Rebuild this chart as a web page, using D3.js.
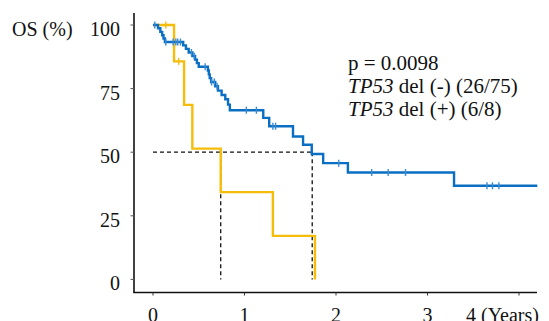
<!DOCTYPE html>
<html>
<head>
<meta charset="utf-8">
<script src="https://cdn.jsdelivr.net/npm/d3@7"></script>
<style>
  body { margin: 0; background: #fff; }
  text { font-family: "Liberation Serif", "Times New Roman", serif; fill: #111; }
</style>
</head>
<body>
<svg id="chart" width="549" height="321" font-family="Liberation Serif"></svg>
<script>
// TP53 del (-): event times (years) and survival (%) after each drop
const negTimes = [0.055, 0.08, 0.10, 0.115, 0.13, 0.33, 0.36, 0.39, 0.43, 0.46, 0.48, 0.50,
  0.60, 0.61, 0.62, 0.635, 0.68, 0.71, 0.75, 0.79, 0.82, 0.84,
  1.205, 1.27, 1.53, 1.64, 1.735, 1.86, 2.13, 3.29]
const negSurv = [98.7, 97.3, 96.0, 94.7, 93.3, 92.0, 90.6, 89.2, 87.8, 86.4, 85.0, 83.6,
  82.1, 80.6, 79.1, 77.6, 75.9, 74.2, 72.5, 70.8, 68.7, 66.5,
  63.5, 60.2, 56.2, 52.9, 49.3, 45.7, 42.0, 36.8]
const negCensor = [0.02, 0.14, 0.22, 0.25, 0.27, 0.30, 0.42, 0.45, 0.57, 0.64, 0.67, 0.70,
  1.02, 1.13, 1.31, 1.34, 2.03, 2.39, 2.57, 2.76, 3.65, 3.71, 3.78]
const negEnd = 4.2

// TP53 del (+)
const posTimes = [0.23, 0.34, 0.43, 0.74, 1.31, 1.77]
const posSurv = [85.7, 68.6, 51.4, 34.3, 17.1, 0]
const posCensor = [0.14, 0.28]

const medians = [0.74, 1.74]
const yTicks = [0, 25, 50, 75, 100]
const xTicks = [0, 1, 2, 3]
const legendLines = [
  [{t: 'p = 0.0098', i: false}],
  [{t: 'TP53', i: true}, {t: ' del (-) (26/75)', i: false}],
  [{t: 'TP53', i: true}, {t: ' del (+) (6/8)', i: false}]
]

const blue = '#0a6fc2'
const yellow = '#f5bd0a'

const svg = d3.select('#chart')
const x = d3.scaleLinear().domain([0, 4]).range([153, 519])
const y = d3.scaleLinear().domain([0, 100]).range([279.4, 25])

function steps(times, surv, end) {
  const pts = [{t: 0, s: 100}]
  times.forEach((t, i) => pts.push({t, s: surv[i]}))
  if (end != null) pts.push({t: end, s: surv[surv.length - 1]})
  return pts
}
function survAt(times, surv, t) {
  let s = 100
  times.forEach((tt, i) => { if (tt <= t) s = surv[i] })
  return s
}

// axes
svg.append('line').attr('x1', 134).attr('x2', 134).attr('y1', 13).attr('y2', 292.5)
  .attr('stroke', '#111').attr('stroke-width', 1.6)
svg.append('line').attr('x1', 133.2).attr('x2', 537).attr('y1', 292.5).attr('y2', 292.5)
  .attr('stroke', '#111').attr('stroke-width', 1.6)

svg.append('g').selectAll('line').data(yTicks).join('line')
  .attr('x1', 130.5).attr('x2', 134).attr('y1', d => y(d)).attr('y2', d => y(d))
  .attr('stroke', '#555').attr('stroke-width', 1)
svg.append('g').selectAll('text').data(yTicks).join('text')
  .attr('x', 120).attr('y', d => y(d) + 11)
  .attr('text-anchor', 'end').attr('font-size', 20).text(d => d)

svg.append('g').selectAll('line').data(xTicks.concat([4])).join('line')
  .attr('x1', d => x(d)).attr('x2', d => x(d)).attr('y1', 292.5).attr('y2', 295.5)
  .attr('stroke', '#333').attr('stroke-width', 1)
svg.append('g').selectAll('text').data(xTicks).join('text')
  .attr('x', d => x(d)).attr('y', 321.5)
  .attr('text-anchor', 'middle').attr('font-size', 20).text(d => d)
svg.append('text').attr('x', 466).attr('y', 321.5).attr('font-size', 20).text('4 (Years)')

svg.append('text').attr('x', 12).attr('y', 36).attr('font-size', 20).text('OS (%)')

// median guides
const dash = svg.append('g').attr('stroke', '#111').attr('stroke-width', 1.3)
  .attr('stroke-dasharray', '4,3').attr('fill', 'none')
dash.append('line').attr('x1', x(0)).attr('x2', x(medians[1])).attr('y1', y(50)).attr('y2', y(50))
dash.selectAll('line.v').data(medians).join('line').attr('class', 'v')
  .attr('x1', d => x(d)).attr('x2', d => x(d)).attr('y1', y(50)).attr('y2', y(0))

// curves
const line = d3.line().x(d => x(d.t)).y(d => y(d.s)).curve(d3.curveStepAfter)
svg.append('path').datum(steps(posTimes, posSurv, null))
  .attr('d', line).attr('fill', 'none').attr('stroke', yellow).attr('stroke-width', 2.4)
svg.append('path').datum(steps(negTimes, negSurv, negEnd))
  .attr('d', line).attr('fill', 'none').attr('stroke', blue).attr('stroke-width', 2.4)

// censor marks
function censor(times, surv, marks, color) {
  svg.append('g').selectAll('line').data(marks).join('line')
    .attr('x1', d => x(d)).attr('x2', d => x(d))
    .attr('y1', d => y(survAt(times, surv, d)) - 3.5)
    .attr('y2', d => y(survAt(times, surv, d)) + 3.5)
    .attr('stroke', color).attr('stroke-width', 1.4)
}
censor(posTimes, posSurv, posCensor, yellow)
censor(negTimes, negSurv, negCensor, '#3b8ad4')

// legend
const leg = svg.append('g')
legendLines.forEach((parts, i) => {
  const t = leg.append('text').attr('x', 348).attr('y', 70 + i * 23).attr('font-size', 21)
  parts.forEach(p => t.append('tspan').attr('font-style', p.i ? 'italic' : 'normal').text(p.t))
})
</script>
</body>
</html>
